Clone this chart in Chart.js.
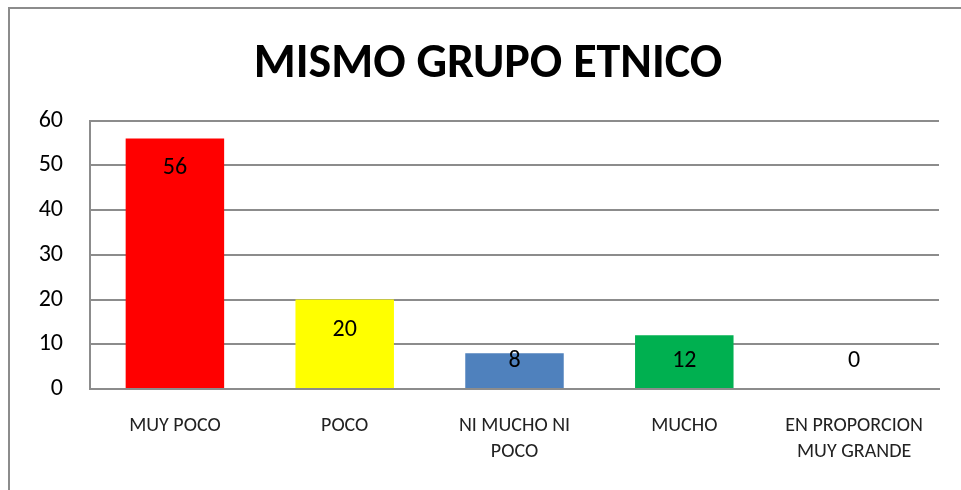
<!DOCTYPE html>
<html>
<head>
<meta charset="utf-8">
<script src="https://cdn.jsdelivr.net/npm/chart.js@4"></script>
<style>
  html, body { margin: 0; padding: 0; background: #fff; overflow: hidden; }
  #wrap { position: relative; width: 961px; height: 490px; }
  #frame { position: absolute; left: 8px; top: 7px; width: 1000px; height: 600px;
           border-left: 2px solid #8c8c8c; border-top: 2px solid #8c8c8c; }
  canvas { position: absolute; left: 0; top: 0; }
</style>
</head>
<body>
<div id="wrap">
  <div id="frame"></div>
  <canvas id="barChart" width="961" height="490"></canvas>
</div>
<script>
var ctx = document.getElementById('barChart').getContext('2d');

let categories = ['MUY POCO', 'POCO', ['NI MUCHO NI', 'POCO'], 'MUCHO', ['EN PROPORCION', 'MUY GRANDE']]
let values = [56, 20, 8, 12, 0]
let yTicks = [0, 10, 20, 30, 40, 50, 60]

let red = '#FF0000'
let yellow = '#FFFF00'
let blue = '#4F81BD'
let green = '#00B050'
let font = "Carlito, Lato, 'Open Sans', sans-serif"

// etiquetas de valor dentro de la barra (como en Excel)
const valueLabels = {
    id: 'valueLabels',
    afterDatasetsDraw(chart) {
        const c = chart.ctx
        const meta = chart.getDatasetMeta(0)
        const y = chart.scales.y
        const base = y.getPixelForValue(0)
        c.save()
        c.font = '24px ' + font
        c.fillStyle = '#000'
        c.textAlign = 'center'
        c.textBaseline = 'middle'
        meta.data.forEach((bar, i) => {
            let py = Math.min(bar.y + 30, base - 28)
            c.fillText(String(values[i]), bar.x, py)
        })
        c.restore()
    }
}

var chart = new Chart(ctx, {
    type: 'bar',
    data: {
        labels: categories,
        datasets: [{
            data: values,
            backgroundColor: [red, yellow, blue, green, '#7F7F7F'],
            categoryPercentage: 1,
            barPercentage: 0.58
        }]
    },
    options: {
        responsive: false,
        animation: false,
        layout: { padding: { left: 37, right: 22, top: 10, bottom: 1 } },
        plugins: {
            legend: { display: false },
            tooltip: { enabled: false },
            title: {
                display: true,
                text: 'MISMO GRUPO ETNICO',
                color: '#000',
                font: { family: font, size: 48, weight: 'bold', lineHeight: 1.2 },
                padding: { top: 26, bottom: 27 }
            }
        },
        scales: {
            x: {
                grid: { display: false, drawTicks: false },
                border: { color: '#8c8c8c', width: 2 },
                ticks: {
                    color: '#222',
                    font: { family: font, size: 20, lineHeight: 1.3 },
                    padding: 24,
                    maxRotation: 0,
                    autoSkip: false
                }
            },
            y: {
                min: 0,
                max: 60,
                afterFit(scale) { scale.width = 53 },
                afterBuildTicks(scale) { scale.ticks = yTicks.map(v => ({ value: v })) },
                grid: { color: '#8c8c8c', lineWidth: 2, drawTicks: false },
                border: { color: '#8c8c8c', width: 2 },
                ticks: {
                    color: '#000',
                    font: { family: font, size: 24 },
                    padding: 27
                }
            }
        }
    },
    plugins: [valueLabels]
});
</script>
</body>
</html>
